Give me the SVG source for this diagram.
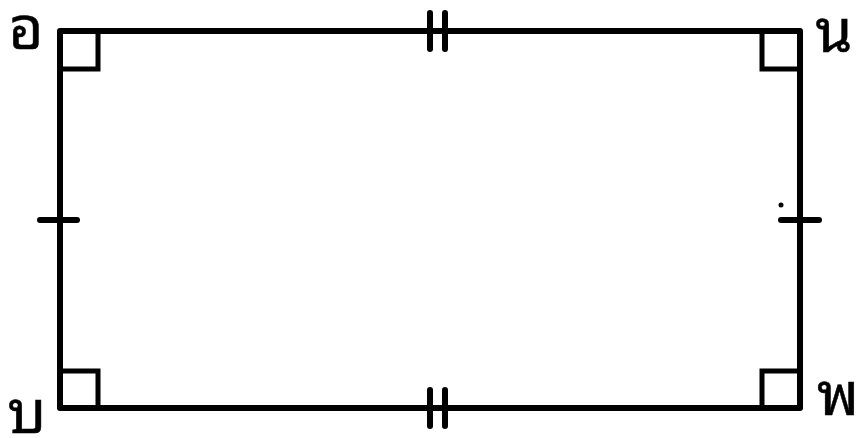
<svg xmlns="http://www.w3.org/2000/svg" width="864" height="438" viewBox="0 0 864 438">
<style>
.ln{stroke:#000;stroke-width:6;fill:none;stroke-linecap:round;stroke-linejoin:round}
.ra{stroke:#000;stroke-width:5;fill:none}
.lb{font-family:"Noto Sans Thai Looped","Noto Serif Thai","Loma","Garuda","Norasi","Noto Sans Thai","Noto Sans",sans-serif;font-size:60px;font-weight:normal;fill:#000;stroke:#000;stroke-width:0.5;text-anchor:middle}
</style>
<rect width="864" height="438" fill="#fff"/>
<g id="connectors">
<polygon class="ln" points="60,31 800,31 800,408 60,408"/>
<line class="ln" x1="430" y1="13" x2="430" y2="49"/>
<line class="ln" x1="445" y1="13" x2="445" y2="49"/>
<line class="ln" x1="430" y1="390" x2="430" y2="426"/>
<line class="ln" x1="445" y1="390" x2="445" y2="426"/>
<line class="ln" x1="40" y1="220" x2="77" y2="220"/>
<line class="ln" x1="781" y1="220" x2="819" y2="220"/>
<circle cx="781" cy="205" r="2.5" fill="#000"/>
</g>
<g id="angles">
<polyline class="ra" points="60,69 98,69 98,31"/>
<polyline class="ra" points="800,69 762,69 762,31"/>
<polyline class="ra" points="60,371 98,371 98,408"/>
<polyline class="ra" points="800,371 762,371 762,408"/>
</g>
<g id="node-o"><text class="lb" x="26" y="49">อ</text></g>
<g id="node-n"><text class="lb" x="834" y="52">น</text></g>
<g id="node-b"><text class="lb" x="27" y="433">บ</text></g>
<g id="node-p"><text class="lb" x="838" y="415">พ</text></g>
</svg>
